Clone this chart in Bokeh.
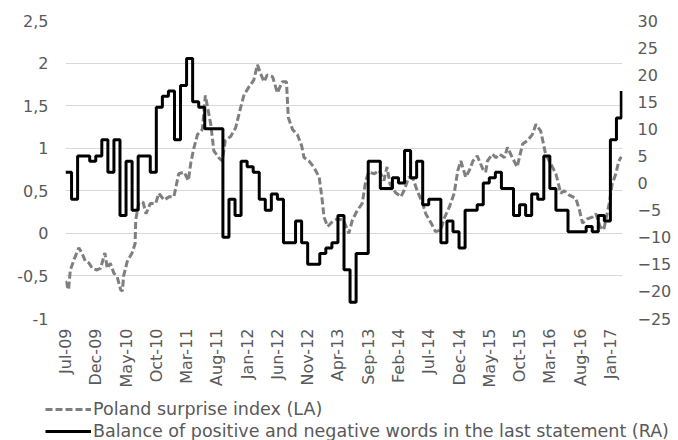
import math
from bokeh.plotting import figure
from bokeh.layouts import column
from bokeh.models import Range1d, LinearAxis, FixedTicker, Legend, LegendItem
from bokeh.embed import file_html
from bokeh.resources import INLINE

# x axis: months since Jul-2009
tick_months = [0, 5, 10, 15, 20, 25, 30, 35, 40, 45, 50, 55, 60, 65, 70, 75, 80, 85, 90]
tick_labels = ["Jul-09", "Dec-09", "May-10", "Oct-10", "Mar-11", "Aug-11", "Jan-12",
               "Jun-12", "Nov-12", "Apr-13", "Sep-13", "Feb-14", "Jul-14", "Dec-14",
               "May-15", "Oct-15", "Mar-16", "Aug-16", "Jan-17"]

left_ticks = [-1, -0.5, 0, 0.5, 1, 1.5, 2, 2.5]
left_labels = ["-1", "-0,5", "0", "0,5", "1", "1,5", "2", "2,5"]
right_ticks = [-25, -20, -15, -10, -5, 0, 5, 10, 15, 20, 25, 30]

series_names = ["Poland surprise index (LA)",
                "Balance of positive and negative words in the last statement (RA)"]

# Poland surprise index (LA): time in months since Jul-2009, value
surprise_t = [0.0, 0.5, 0.8, 1.4, 2.2, 2.7, 3.3, 3.9, 4.4, 5.2, 5.8, 6.5, 6.9, 7.4, 8.0,
              8.5, 9.1, 9.4, 9.6, 10.2, 11.0, 11.5, 11.6, 12.1, 12.8, 13.3, 14.0, 14.9,
              15.4, 16.3, 17.1, 17.9, 18.7, 19.6, 20.3, 20.7, 21.2, 21.8, 22.6, 23.1,
              24.0, 24.5, 25.3, 25.9, 26.4, 27.3, 28.1, 28.9, 29.5, 30.3, 31.1, 31.7,
              32.2, 32.8, 33.3, 34.2, 35.0, 35.8, 36.5, 36.8, 37.5, 38.3, 39.0, 39.4,
              40.2, 41.0, 41.9, 42.4, 42.7, 43.3, 44.1, 44.9, 45.7, 46.0, 46.8, 47.4,
              48.2, 49.0, 49.6, 50.1, 51.0, 51.8, 52.6, 53.1, 53.6, 54.5, 55.4, 55.9,
              56.7, 57.4, 58.1, 59.0, 59.5, 60.4, 61.1, 62.0, 62.5, 63.4, 64.2, 64.8,
              65.3, 66.1, 66.7, 67.3, 68.0, 68.9, 69.4, 69.7, 70.5, 71.1, 71.7, 72.5,
              73.0, 73.8, 74.6, 75.5, 76.3, 77.1, 77.7, 78.5, 79.3, 80.2, 81.0, 81.8,
              82.4, 83.2, 84.3, 84.9, 85.4, 86.2, 87.0, 87.6, 88.3, 88.9, 89.8, 90.3,
              90.9, 91.4, 91.8]
surprise_v = [-0.56, -0.66, -0.43, -0.31, -0.17, -0.23, -0.33, -0.35, -0.41, -0.43, -0.41,
              -0.23, -0.41, -0.35, -0.47, -0.50, -0.66, -0.68, -0.50, -0.33, -0.23, -0.12,
              0.16, 0.35, 0.37, 0.23, 0.35, 0.35, 0.47, 0.39, 0.43, 0.43, 0.70, 0.72, 0.62,
              0.83, 1.00, 1.16, 1.22, 1.62, 1.28, 0.97, 0.89, 0.85, 1.09, 1.14, 1.24, 1.47,
              1.63, 1.72, 1.80, 1.98, 1.88, 1.78, 1.86, 1.84, 1.65, 1.78, 1.78, 1.36, 1.22,
              1.16, 1.03, 0.89, 0.85, 0.78, 0.66, 0.39, 0.19, 0.08, 0.14, 0.17, 0.16, 0.14,
              0.00, 0.16, 0.27, 0.35, 0.62, 0.72, 0.70, 0.74, 0.62, 0.78, 0.58, 0.48, 0.43,
              0.50, 0.66, 0.64, 0.50, 0.35, 0.23, 0.12, 0.02, 0.04, 0.17, 0.31, 0.47, 0.74,
              0.85, 0.66, 0.74, 0.85, 0.91, 0.76, 0.72, 0.85, 0.93, 0.89, 0.93, 0.89, 1.01,
              0.89, 0.78, 1.05, 1.09, 1.16, 1.28, 1.20, 0.93, 0.81, 0.70, 0.47, 0.50, 0.45,
              0.41, 0.27, 0.12, 0.17, 0.19, 0.23, 0.08, 0.04, 0.35, 0.58, 0.70, 0.85, 0.90]

# Balance of positive and negative words (RA): monthly from Jul-2009, last point late Feb-2017
balance_t = list(range(92)) + [91.8]
balance_v = [2, -3, 5, 5, 4, 5, 8, 2, 8, -6, 4, -5, 5, 5, 2, 14, 16, 17, 8, 18,
             23, 15, 14, 10, 10, 10, -10, -3, -6, 4, 3, 2, -3, -5, -2, -3, -11, -11, -7, -11,
             -15, -15, -13, -12, -11, -6, -16, -22, -13, -13, 4, 4, -1, -1, 1, 0, 6, 1, 4, -4,
             -3, -3, -11, -7, -9, -12, -5, -5, -4, 0, 1, 2, -1, -1, -6, -4, -6, -2, -3, 5,
             -1, -5, -5, -9, -9, -9, -8, -9, -6, -7, 8, 12, 17]

FONT = "DejaVu Sans"
TXT = "#595959"
FS = "16px"
DASH_STYLE = dict(line_color="#7f7f7f", line_width=3, line_dash="7 3")
SOLID_STYLE = dict(line_color="#000000", line_width=3)

p = figure(width=678, height=390, output_backend="svg", toolbar_location=None,
           x_range=Range1d(0, 92), y_range=Range1d(-1, 2.5),
           min_border_left=65, min_border_right=56, min_border_top=20, min_border_bottom=69)
p.outline_line_color = None
p.xgrid.grid_line_color = None
p.ygrid.grid_line_color = "#d9d9d9"
p.ygrid.grid_line_width = 1

p.extra_y_ranges = {"right": Range1d(-25, 30)}

r1 = p.line(surprise_t, surprise_v, **DASH_STYLE)
r2 = p.step(balance_t, balance_v, mode="after", y_range_name="right", **SOLID_STYLE)

def style(ax):
    ax.axis_line_color = None
    ax.major_tick_line_color = None
    ax.minor_tick_line_color = None
    ax.major_tick_out = 0
    ax.major_tick_in = 0
    ax.major_label_text_font = FONT
    ax.major_label_text_font_size = FS
    ax.major_label_text_color = TXT

ya = p.yaxis[0]
ya.ticker = FixedTicker(ticks=left_ticks)
ya.major_label_overrides = {t: l for t, l in zip(left_ticks, left_labels)}
ya.major_label_standoff = 17
style(ya)

ra = LinearAxis(y_range_name="right", ticker=FixedTicker(ticks=right_ticks))
style(ra)
ra.major_label_standoff = 15
p.add_layout(ra, "right")

xa = p.xaxis[0]
xa.ticker = FixedTicker(ticks=tick_months)
xa.major_label_overrides = {t: l for t, l in zip(tick_months, tick_labels)}
xa.major_label_orientation = math.pi / 2
xa.major_label_standoff = 10
style(xa)

# legend strip below the chart (sample renderers carry only the line styles)
leg = figure(width=678, height=50, output_backend="svg", toolbar_location=None,
             x_axis_type=None, y_axis_type=None,
             x_range=Range1d(0, 1), y_range=Range1d(0, 1),
             min_border_left=45, min_border_right=0, min_border_top=9, min_border_bottom=0)
leg.outline_line_color = None
leg.xgrid.grid_line_color = None
leg.ygrid.grid_line_color = None
l1 = leg.line([-1], [-1], **DASH_STYLE)
l2 = leg.line([-1], [-1], **SOLID_STYLE)

for fig in (p, leg):
    try:
        fig.frame_align = False
    except Exception:
        pass

legend = Legend(items=[
    LegendItem(label=series_names[0], renderers=[l1]),
    LegendItem(label=series_names[1], renderers=[l2]),
], location="top_left", orientation="vertical")
legend.border_line_color = None
legend.background_fill_alpha = 0
legend.padding = 0
legend.margin = 0
legend.spacing = 2
legend.glyph_width = 46
legend.glyph_height = 20
legend.label_height = 20
legend.label_standoff = 2
legend.label_text_font = FONT
legend.label_text_font_size = "17.5px"
legend.label_text_color = TXT
leg.add_layout(legend)

layout = column(p, leg, spacing=0)
open("out.html", "w").write(file_html(layout, INLINE))
